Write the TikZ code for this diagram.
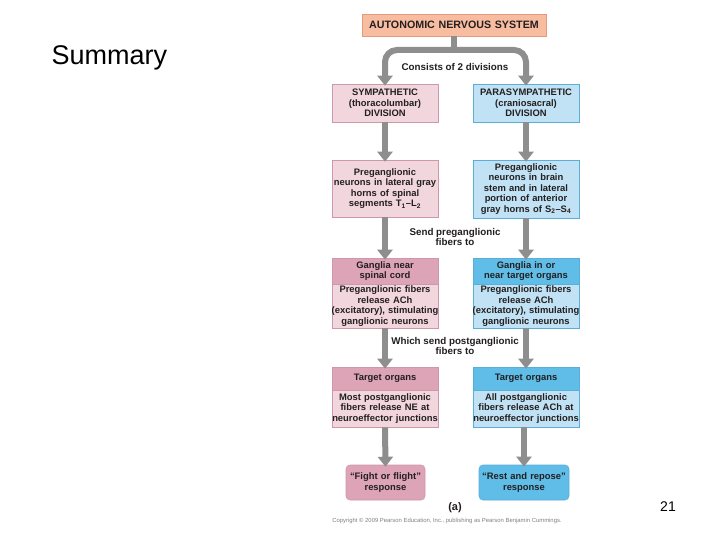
\documentclass[tikz,border=0pt]{standalone}
\usepackage{fontspec}
\setmainfont{Liberation Sans}
\usetikzlibrary{arrows.meta}
\definecolor{salmon}{HTML}{F8BCA0}
\definecolor{salmonb}{HTML}{E39A7E}
\definecolor{pinkl}{HTML}{F2D6DE}
\definecolor{pinkh}{HTML}{DCA4B6}
\definecolor{pinkb}{HTML}{CF97AA}
\definecolor{bluel}{HTML}{C1E2F4}
\definecolor{blueh}{HTML}{5FBDE8}
\definecolor{blueb}{HTML}{5AAED8}
\definecolor{arrowgray}{HTML}{8E8E8E}
\definecolor{txt}{HTML}{231F20}
\tikzset{
  box/.style={draw, line width=0.6pt, text=txt, align=center, inner sep=0pt,
    font=\fontsize{9.4}{10.5}\selectfont\bfseries, minimum width=106pt, text width=130pt},
  lbox/.style={box, fill=pinkl, draw=pinkb},
  lhead/.style={box, fill=pinkh, draw=pinkb},
  rbox/.style={box, fill=bluel, draw=blueb},
  rhead/.style={box, fill=blueh, draw=blueb},
  t/.style={box, draw=none, fill=none},
  flow/.style={draw=arrowgray, line width=6pt, -{Triangle[width=15pt,length=10pt]}, arrowgray},
  lab/.style={text=txt, align=center, font=\fontsize{9.8}{10.5}\selectfont\bfseries},
}
\begin{document}
\begin{tikzpicture}[x=1pt,y=-1pt]
\useasboundingbox (0,0) rectangle (720,540);
\fill[white] (0,0) rectangle (720,540);

\node[anchor=west, font=\fontsize{27}{30}\selectfont] (title) at (48,58) {Summary};
\node[font=\fontsize{14}{16}\selectfont] (pnum) at (668,507) {21};

\node[box, fill=salmon, draw=salmonb, minimum width=184pt, text width=184pt, minimum height=22pt,
  font=\fontsize{10.7}{12}\selectfont\bfseries] (ans) at (454,25) {AUTONOMIC NERVOUS SYSTEM};

% box backgrounds (exact sizes)
\path[lbox] (332,84) rectangle (438,122);
\path[rbox] (473,84) rectangle (579,122);
\path[lbox] (332,160) rectangle (438,217);
\path[rbox] (473,160) rectangle (579,218);
\path[lhead] (332,258) rectangle (438,284);
\path[lbox] (332,284) rectangle (438,328);
\path[rhead] (473,258) rectangle (579,284);
\path[rbox] (473,284) rectangle (579,328);
\path[lhead] (332,367) rectangle (438,390);
\path[lbox] (332,390) rectangle (438,427);
\path[rhead] (473,367) rectangle (579,390);
\path[rbox] (473,390) rectangle (579,427);
\path[lhead, rounded corners=4pt] (346,465) rectangle (425,500);
\path[rhead, rounded corners=4pt] (479,465) rectangle (569,500);

\node[t, minimum height=38pt] (symp) at (385,103) {SYMPATHETIC\\(thoracolumbar)\\DIVISION};
\node[t, minimum height=38pt] (para) at (526,103) {PARASYMPATHETIC\\(craniosacral)\\DIVISION};

\node[t, minimum height=57pt] (preL) at (385,188.5) {Preganglionic\\neurons in lateral gray\\horns of spinal\\segments T\textsubscript{1}--L\textsubscript{2}};
\node[t, minimum height=58pt] (preR) at (526,189) {Preganglionic\\neurons in brain\\stem and in lateral\\portion of anterior\\gray horns of S\textsubscript{2}--S\textsubscript{4}};

\node[t, minimum height=26pt] (ghL) at (385,271) {Ganglia near\\spinal cord};
\node[t, minimum height=44pt] (gbL) at (385,306) {Preganglionic fibers\\release ACh\\(excitatory), stimulating\\ganglionic neurons};
\node[t, minimum height=26pt] (ghR) at (526,271) {Ganglia in or\\near target organs};
\node[t, minimum height=44pt] (gbR) at (526,306) {Preganglionic fibers\\release ACh\\(excitatory), stimulating\\ganglionic neurons};

\node[t, minimum height=23pt] (thL) at (385,378.5) {Target organs};
\node[t, minimum height=37pt] (tbL) at (385,408.5) {Most postganglionic\\fibers release NE at\\neuroeffector junctions};
\node[t, minimum height=23pt] (thR) at (526,378.5) {Target organs};
\node[t, minimum height=37pt] (tbR) at (526,408.5) {All postganglionic\\fibers release ACh at\\neuroeffector junctions};

\node[t, minimum height=35pt] (respL) at (385.5,482.5) {``Fight or flight''\\response};
\node[t, minimum height=35pt] (respR) at (524,482.5) {``Rest and repose''\\response};

% connectors
\coordinate (split) at (454,50);
\draw[arrowgray, line width=6pt] (ans.south) -- ([yshift=3pt]split);
\draw[flow, rounded corners=12pt] (split) -| ([yshift=-2pt]symp.north);
\draw[flow, rounded corners=12pt] (split) -| ([yshift=-2pt]para.north);
\draw[flow] (symp.south) -- ([yshift=-2pt]preL.north);
\draw[flow] (para.south) -- ([yshift=-2pt]preR.north);
\draw[flow] (preL.south) -- ([yshift=-2pt]ghL.north);
\draw[flow] (preR.south) -- ([yshift=-2pt]ghR.north);
\draw[flow] (gbL.south) -- ([yshift=-2pt]thL.north);
\draw[flow] (gbR.south) -- ([yshift=-2pt]thR.north);
\draw[flow] (tbL.south) -- ([yshift=-2pt]respL.north);
\draw[flow] (tbR.south -| respR.north) -- ([yshift=-2pt]respR.north);

\node[lab, fill=white, inner sep=1pt] (l1) at (455,67) {Consists of 2 divisions};
\node[lab] (l2) at (455,237) {Send preganglionic\\fibers to};
\node[lab] (l3) at (455,346) {Which send postganglionic\\fibers to};
\node[lab, font=\fontsize{11}{12}\selectfont\bfseries] (la) at (455,508) {(a)};
\node[text=gray, font=\fontsize{5.9}{7}\selectfont] (copy) at (447,521) {Copyright \copyright{} 2009 Pearson Education, Inc., publishing as Pearson Benjamin Cummings.};
\end{tikzpicture}
\end{document}
